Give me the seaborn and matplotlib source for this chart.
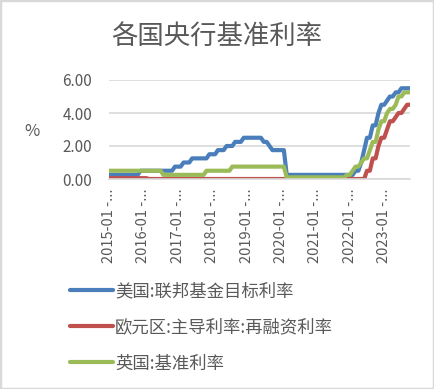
import pandas as pd
import numpy as np
import matplotlib
matplotlib.use("Agg")
import matplotlib.pyplot as plt
import seaborn as sns
from matplotlib.patches import Rectangle
from matplotlib.lines import Line2D

sns.set_style("white")
plt.rcParams['font.family'] = ['Noto Sans CJK SC', 'DejaVu Sans']

# 月度数据 2015-01 ~ 2023-10
months = pd.period_range("2015-01", "2023-10", freq="M").strftime("%Y-%m").tolist()

# 美国:联邦基金目标利率(上限)
fed = [
    0.25, 0.25, 0.25, 0.25, 0.25, 0.25, 0.25, 0.25, 0.25, 0.25, 0.25, 0.50,  # 2015
    0.50, 0.50, 0.50, 0.50, 0.50, 0.50, 0.50, 0.50, 0.50, 0.50, 0.50, 0.75,  # 2016
    0.75, 0.75, 1.00, 1.00, 1.00, 1.25, 1.25, 1.25, 1.25, 1.25, 1.25, 1.50,  # 2017
    1.50, 1.50, 1.75, 1.75, 1.75, 2.00, 2.00, 2.00, 2.25, 2.25, 2.25, 2.50,  # 2018
    2.50, 2.50, 2.50, 2.50, 2.50, 2.50, 2.25, 2.25, 2.00, 1.75, 1.75, 1.75,  # 2019
    1.75, 1.75, 0.25, 0.25, 0.25, 0.25, 0.25, 0.25, 0.25, 0.25, 0.25, 0.25,  # 2020
    0.25, 0.25, 0.25, 0.25, 0.25, 0.25, 0.25, 0.25, 0.25, 0.25, 0.25, 0.25,  # 2021
    0.25, 0.25, 0.50, 0.50, 1.00, 1.75, 2.50, 2.50, 3.25, 3.25, 4.00, 4.50,  # 2022
    4.50, 4.75, 5.00, 5.00, 5.25, 5.25, 5.50, 5.50, 5.50, 5.50,              # 2023
]

# 欧元区:主导利率:再融资利率
ecb = [
    0.05, 0.05, 0.05, 0.05, 0.05, 0.05, 0.05, 0.05, 0.05, 0.05, 0.05, 0.05,  # 2015
    0.05, 0.05, 0.00, 0.00, 0.00, 0.00, 0.00, 0.00, 0.00, 0.00, 0.00, 0.00,  # 2016
    0.00, 0.00, 0.00, 0.00, 0.00, 0.00, 0.00, 0.00, 0.00, 0.00, 0.00, 0.00,  # 2017
    0.00, 0.00, 0.00, 0.00, 0.00, 0.00, 0.00, 0.00, 0.00, 0.00, 0.00, 0.00,  # 2018
    0.00, 0.00, 0.00, 0.00, 0.00, 0.00, 0.00, 0.00, 0.00, 0.00, 0.00, 0.00,  # 2019
    0.00, 0.00, 0.00, 0.00, 0.00, 0.00, 0.00, 0.00, 0.00, 0.00, 0.00, 0.00,  # 2020
    0.00, 0.00, 0.00, 0.00, 0.00, 0.00, 0.00, 0.00, 0.00, 0.00, 0.00, 0.00,  # 2021
    0.00, 0.00, 0.00, 0.00, 0.00, 0.00, 0.50, 0.50, 1.25, 1.25, 2.00, 2.50,  # 2022
    2.50, 3.00, 3.50, 3.50, 3.75, 4.00, 4.00, 4.25, 4.50, 4.50,              # 2023
]

# 英国:基准利率
boe = [
    0.50, 0.50, 0.50, 0.50, 0.50, 0.50, 0.50, 0.50, 0.50, 0.50, 0.50, 0.50,  # 2015
    0.50, 0.50, 0.50, 0.50, 0.50, 0.50, 0.50, 0.25, 0.25, 0.25, 0.25, 0.25,  # 2016
    0.25, 0.25, 0.25, 0.25, 0.25, 0.25, 0.25, 0.25, 0.25, 0.25, 0.50, 0.50,  # 2017
    0.50, 0.50, 0.50, 0.50, 0.50, 0.50, 0.50, 0.75, 0.75, 0.75, 0.75, 0.75,  # 2018
    0.75, 0.75, 0.75, 0.75, 0.75, 0.75, 0.75, 0.75, 0.75, 0.75, 0.75, 0.75,  # 2019
    0.75, 0.75, 0.10, 0.10, 0.10, 0.10, 0.10, 0.10, 0.10, 0.10, 0.10, 0.10,  # 2020
    0.10, 0.10, 0.10, 0.10, 0.10, 0.10, 0.10, 0.10, 0.10, 0.10, 0.10, 0.25,  # 2021
    0.25, 0.50, 0.75, 0.75, 1.00, 1.25, 1.25, 1.75, 2.25, 2.25, 3.00, 3.50,  # 2022
    3.50, 4.00, 4.25, 4.25, 4.50, 5.00, 5.00, 5.25, 5.25, 5.25,              # 2023
]

series_names = ["美国:联邦基金目标利率", "欧元区:主导利率:再融资利率", "英国:基准利率"]
colors = ["#4a7ebb", "#c0504d", "#9bbb59"]

tick_labels = ["2015-01 -...", "2016-01 -...", "2017-01 -...", "2018-01 -...", "2019-01 -...",
               "2020-01 -...", "2021-01 -...", "2022-01 -...", "2023-01 -..."]

idx = list(range(len(months)))
df = pd.concat([
    pd.DataFrame({"idx": idx, "val": vals, "series": name})
    for name, vals in zip(series_names, [fed, ecb, boe])
])

fig = plt.figure(figsize=(4.34, 3.89), dpi=100)
ax = fig.add_axes([109 / 434, 1 - 179 / 389, (410 - 109) / 434, (179 - 80) / 389])

sns.lineplot(data=df, x="idx", y="val", hue="series", hue_order=series_names,
             palette=colors, linewidth=3, legend=False, ax=ax,
             solid_capstyle="round", solid_joinstyle="round")

ax.set_xlim(0, len(months) - 1)
ax.set_ylim(0, 6)
ax.set_yticks([0, 2, 4, 6])
ax.set_yticklabels(["0.00", "2.00", "4.00", "6.00"], fontsize=11, color="#595959")
ax.set_xticks(idx[::12])
ax.set_xticklabels(tick_labels, rotation=90, fontsize=10.5, color="#595959")
ax.tick_params(axis="x", length=5, color="#d9d9d9", width=1, pad=2)
ax.tick_params(axis="y", length=0, pad=12)
ax.set_xlabel("")
ax.set_ylabel("")
ax.yaxis.grid(True, color="#d9d9d9", linewidth=1.2)
ax.set_axisbelow(True)
for s in ["left", "top", "right"]:
    ax.spines[s].set_visible(False)
ax.spines["bottom"].set_color("#d9d9d9")
ax.spines["bottom"].set_linewidth(1.2)

fig.text(32 / 434, 1 - 131 / 389, "%", fontsize=12, color="#595959", ha="center", va="center")
fig.text(217 / 434, 1 - 36 / 389, "各国央行基准利率", fontsize=19, color="#595959",
         ha="center", va="center")

handles = [Line2D([], [], color=c, linewidth=3, solid_capstyle="round") for c in colors]
fig.legend(handles, series_names, loc="upper left", bbox_to_anchor=(70 / 434, 1 - 282 / 389),
           frameon=False, fontsize=12.5, labelcolor="#595959", handlelength=2.5,
           handletextpad=0.1, labelspacing=1.05, borderaxespad=0, borderpad=0)

fig.patches.append(Rectangle((0, 0), 1, 1, transform=fig.transFigure, fill=False,
                             edgecolor="#d9d9d9", linewidth=2.5))

fig.savefig("out.png", dpi=100)
